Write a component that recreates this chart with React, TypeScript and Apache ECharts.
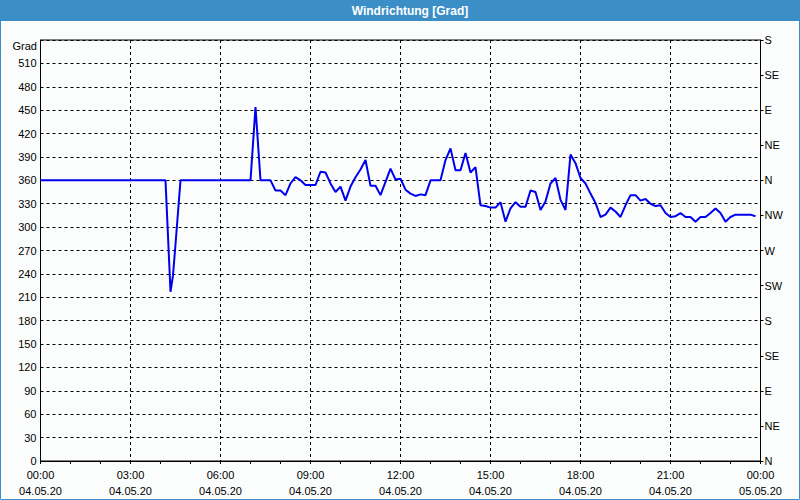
import React, { useEffect, useRef } from "react";
import * as echarts from "echarts";

const titleText = "Windrichtung [Grad]";
const unitLabel = "Grad";
const dateLabels = ["04.05.20", "05.05.20"];
const compassLabels = ["N", "NE", "E", "SE", "S", "SW", "W", "NW", "N", "NE", "E", "SE", "S"];

const times = [
  "00:00", "04:10", "04:20", "04:25", "04:30", "04:40", "07:00", "07:10", "07:20", "07:40", "07:50",
  "08:00", "08:10", "08:20", "08:30", "08:40", "08:50", "09:00", "09:10", "09:20", "09:30",
  "09:40", "09:50", "10:00", "10:10", "10:20", "10:30", "10:40", "10:50", "11:00", "11:10",
  "11:20", "11:30", "11:40", "11:50", "12:00", "12:10", "12:20", "12:30", "12:40", "12:50",
  "13:00", "13:10", "13:20", "13:30", "13:40", "13:50", "14:00", "14:10", "14:20", "14:30",
  "14:40", "14:50", "15:00", "15:10", "15:20", "15:30", "15:40", "15:50", "16:00", "16:10",
  "16:20", "16:30", "16:40", "16:50", "17:00", "17:10", "17:20", "17:30", "17:40", "17:50",
  "18:00", "18:10", "18:20", "18:30", "18:40", "18:50", "19:00", "19:10", "19:20", "19:30",
  "19:40", "19:50", "20:00", "20:10", "20:20", "20:30", "20:40", "20:50", "21:00", "21:10",
  "21:20", "21:30", "21:40", "21:50", "22:00", "22:10", "22:20", "22:30", "22:40", "22:50",
  "23:00", "23:10", "23:20", "23:30", "23:40", "23:50",
];

const directions = [
  360, 360, 217, 238, 278, 360, 360, 454, 360, 360, 347,
  347, 341, 356, 364, 360, 354, 354, 354, 371, 370,
  356, 345, 352, 334, 352, 364, 374, 386, 353, 353,
  341, 358, 375, 361, 362, 348, 343, 340, 342, 341,
  360, 360, 360, 386, 401, 373, 373, 395, 370, 377,
  328, 327, 325, 325, 332, 307, 324, 332, 326, 326,
  347, 345, 322, 333, 356, 363, 335, 322, 393, 382,
  363, 356, 343, 331, 313, 316, 325, 320, 313, 328,
  341, 341, 334, 336, 330, 327, 328, 318, 313, 314,
  318, 313, 313, 307, 313, 313, 318, 324, 318, 307,
  313, 316, 316, 316, 316, 314,
];

const FONT = "Liberation Sans";

export default function App() {
  const ref = useRef<HTMLDivElement>(null);

  useEffect(() => {
    if (!ref.current) return;
    const chart = echarts.init(ref.current, null, { renderer: "svg" });
    const toHours = (t: string) => {
      const [h, m] = t.split(":").map(Number);
      return h + m / 60;
    };
    const data = times.map((t, i) => [toHours(t), directions[i]]);

    chart.setOption({
      animation: false,
      backgroundColor: "#fbfdfc",
      textStyle: { fontFamily: FONT },
      grid: {
        left: 40.5,
        right: 39.5,
        top: 40,
        bottom: 39,
        show: true,
        borderColor: "#000",
        borderWidth: 1,
        backgroundColor: "transparent",
      },
      graphic: [
        {
          type: "rect",
          shape: { x: 0, y: 0, width: 800, height: 21 },
          style: { fill: "#3c8fc6" },
          silent: true,
        },
        {
          type: "rect",
          shape: { x: 0.5, y: 0.5, width: 799, height: 499 },
          style: { fill: "none", stroke: "#3c8fc6", lineWidth: 1 },
          silent: true,
        },
        {
          type: "text",
          x: 410,
          y: 11,
          style: {
            text: titleText,
            fill: "#ffffff",
            font: `bold 12px "${FONT}"`,
            align: "center",
            verticalAlign: "middle",
          },
          silent: true,
        },
        {
          type: "text",
          x: 37,
          y: 46,
          style: {
            text: unitLabel,
            fill: "#000",
            font: `11px "${FONT}"`,
            align: "right",
            verticalAlign: "middle",
          },
          silent: true,
        },
      ],
      xAxis: {
        type: "value",
        min: 0,
        max: 24,
        interval: 3,
        axisLine: { show: true, lineStyle: { color: "#000", width: 1 } },
        axisTick: { show: true, length: 3, lineStyle: { color: "#000" } },
        minorTick: { show: true, splitNumber: 3, length: 3, lineStyle: { color: "#000" } },
        splitLine: { show: true, lineStyle: { color: "#000", type: [3, 3], width: 1 } },
        axisLabel: {
          color: "#000",
          fontSize: 11,
          fontFamily: FONT,
          lineHeight: 16,
          margin: 6,
          formatter: (v: number) => {
            const h = Math.round(v) % 24;
            const d = v >= 24 ? dateLabels[1] : dateLabels[0];
            return `${String(h).padStart(2, "0")}:00\n${d}`;
          },
        },
      },
      yAxis: [
        {
          type: "value",
          min: 0,
          max: 540,
          interval: 30,
          position: "left",
          axisLine: { show: true, lineStyle: { color: "#000" } },
          axisTick: { show: false },
          splitLine: { show: true, lineStyle: { color: "#000", type: [3, 3], width: 1 } },
          axisLabel: {
            color: "#000",
            fontSize: 11,
            fontFamily: FONT,
            margin: 4,
            formatter: (v: number) => (v === 540 ? "" : String(v)),
          },
        },
        {
          type: "value",
          min: 0,
          max: 540,
          interval: 45,
          position: "right",
          axisLine: { show: true, lineStyle: { color: "#000" } },
          axisTick: { show: true, inside: false, length: 3, lineStyle: { color: "#000" } },
          splitLine: { show: false },
          axisLabel: {
            color: "#000",
            fontSize: 11,
            fontFamily: FONT,
            margin: 4,
            padding: [7, 0, 0, 0],
            formatter: (v: number) => compassLabels[Math.round(v / 45)] ?? "",
          },
        },
      ],
      series: [
        {
          type: "line",
          yAxisIndex: 0,
          data,
          showSymbol: false,
          symbol: "none",
          smooth: false,
          lineStyle: { color: "#0000f0", width: 2 },
          itemStyle: { color: "#0000f0" },
        },
      ],
    });

    return () => chart.dispose();
  }, []);

  return (
    <div
      ref={ref}
      style={{ position: "absolute", left: 0, top: 0, width: 800, height: 500 }}
    />
  );
}
